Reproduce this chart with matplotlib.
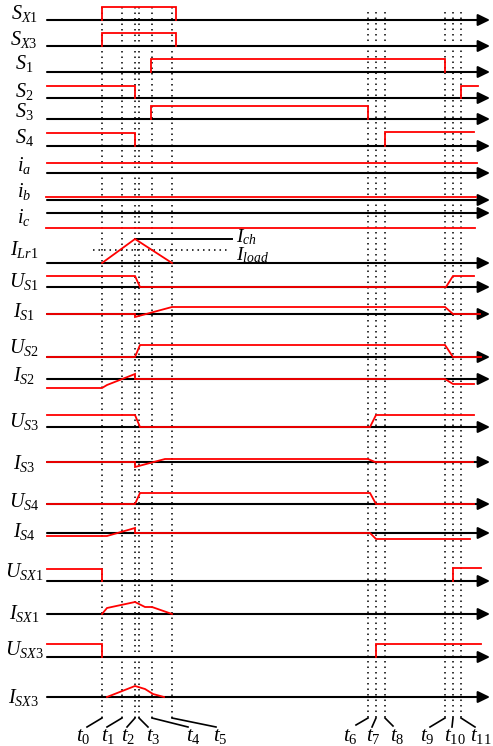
import matplotlib
matplotlib.use("Agg")
import matplotlib.pyplot as plt

plt.rcParams['mathtext.fontset'] = 'custom'
plt.rcParams['mathtext.it'] = 'Liberation Serif:italic'
plt.rcParams['mathtext.rm'] = 'Liberation Serif'
plt.rcParams['font.family'] = ['Liberation Serif', 'DejaVu Sans']

# time instants t0..t11 (horizontal position on the time axis)
t = [102, 122, 135, 139, 152, 172, 368, 376, 385, 445, 453, 461]
t_start, t_end = 47, 490

# row names and baselines
labels = [r'$S_{X1}$', r'$S_{X3}$', r'$S_{1}$', r'$S_{2}$', r'$S_{3}$', r'$S_{4}$',
          r'$i_{a}$', r'$i_{b}$', r'$i_{c}$', r'$I_{Lr1}$',
          r'$U_{S1}$', r'$I_{S1}$', r'$U_{S2}$', r'$I_{S2}$', r'$U_{S3}$', r'$I_{S3}$',
          r'$U_{S4}$', r'$I_{S4}$', r'$U_{SX1}$', r'$I_{SX1}$', r'$U_{SX3}$', r'$I_{SX3}$']
baselines = [20, 46, 72, 98, 119, 146, 173, 200, 213, 263,
             287, 314, 357, 379, 427, 462, 504, 533, 581, 614, 657, 697]
label_y = [13, 40, 64, 91, 112, 138, 165, 192, 217, 250,
           282, 312, 348, 375, 422, 463, 502, 532, 572, 613, 650, 698]

# waveforms: list of segments, each a list of (time, amplitude above the axis)
waves = {
    'SX1': [[(102, 0), (102, 13), (176, 13), (176, 0)]],
    'SX3': [[(102, 0), (102, 13), (176, 13), (176, 0)]],
    'S1': [[(151, 0), (151, 13), (445, 13), (445, 0)]],
    'S2': [[(47, 12), (135, 12), (135, 0)], [(461, 0), (461, 12), (478, 12)]],
    'S3': [[(151, 0), (151, 13), (368, 13), (368, 0)]],
    'S4': [[(47, 13), (135, 13), (135, 0)], [(385, 0), (385, 14), (474, 14)]],
    'ia': [[(47, 10), (477, 10)]],
    'ib': [[(46, 3), (476, 3)]],
    'ic': [[(46, -15), (475, -15)]],
    'ILr1': [[(102, 0), (135, 24), (172, 0)]],
    'US1': [[(47, 11), (135, 11), (140, 0), (446, 0), (453, 11), (474, 11)]],
    'IS1': [[(47, 0), (135, 0), (135, -3), (172, 7), (445, 7), (453, 0), (480, 0)]],
    'US2': [[(47, 0), (135, 0), (140, 12), (445, 12), (453, 0), (481, 0)]],
    'IS2': [[(47, -9), (102, -9), (107, -6), (135, 5), (135, 0), (445, 0), (453, -5), (474, -5)]],
    'US3': [[(47, 12), (135, 12), (140, 0), (370, 0), (376, 12), (474, 12)]],
    'IS3': [[(47, 0), (135, 0), (135, -5), (165, 3), (368, 3), (375, 0), (473, 0)]],
    'US4': [[(47, 0), (135, 0), (140, 11), (370, 11), (376, 0), (474, 0)]],
    'IS4': [[(47, -3), (107, -3), (135, 5), (135, 0), (370, 0), (376, -6), (470, -6)]],
    'USX1': [[(47, 12), (102, 12), (102, 0)], [(453, 0), (453, 13), (481, 13)]],
    'ISX1': [[(102, 0), (107, 6), (135, 12), (145, 7), (152, 7), (172, 0)]],
    'USX3': [[(47, 13), (102, 13), (102, 0)], [(376, 0), (376, 13), (481, 13)]],
    'ISX3': [[(107, 0), (135, 11), (145, 8), (153, 3), (164, 0)]],
}

# time labels and their leader lines
t_names = [r'$t_{%d}$' % i for i in range(12)]
t_label_x = [83, 108, 128, 153, 193, 220, 350, 373, 397, 427, 455, 481]
t_lead_end = [(87, 727), (107, 727), (127, 727), (148, 727), (188, 727), (216, 727),
              (356, 725), (372, 727), (393, 726), (430, 727), (452, 727), (475, 727)]

fig = plt.figure(figsize=(4.93, 7.46), dpi=100)
ax = fig.add_axes([0, 0, 1, 1])
ax.set_xlim(0, 493)
ax.set_ylim(746, 0)
ax.axis('off')

# dotted time markers
for i, x in enumerate(t):
    top = 7 if i < 6 else 12
    ax.plot([x, x], [top, 719], color='k', lw=1.1, ls=(0, (1, 2.6)), zorder=1)

# axes with arrow heads
for y in baselines:
    ax.annotate('', xy=(t_end, y), xytext=(t_start, y),
                arrowprops=dict(arrowstyle='-|>,head_length=0.45,head_width=0.22',
                                lw=1.5, color='k', mutation_scale=16, shrinkA=0, shrinkB=0),
                zorder=2)

# waveforms
for (name, segs), y0 in zip(waves.items(), baselines):
    for seg in segs:
        xs = [p[0] for p in seg]
        ys = [y0 - p[1] for p in seg]
        ax.plot(xs, ys, color='#ff0000', lw=1.3, zorder=3, solid_joinstyle='miter')

# row labels
for lab, y in zip(labels, label_y):
    ax.text(24, y, lab, fontsize=14.5, ha='center', va='center')

# I_ch and I_load reference lines
ax.plot([135, 232], [239, 239], color='k', lw=1.4, zorder=2)
ax.plot([93, 230], [250, 250], color='k', lw=1.1, ls=(0, (1, 2.6)), zorder=1)
ax.text(236, 237, r'$I_{ch}$', fontsize=14, ha='left', va='center')
ax.text(236, 255, r'$I_{load}$', fontsize=14, ha='left', va='center')

# time labels
for x, name, lx, (ex, ey) in zip(t, t_names, t_label_x, t_lead_end):
    ax.plot([x, ex], [718, ey], color='k', lw=1.2)
    ax.text(lx, 736, name, fontsize=15, ha='center', va='center')

fig.savefig('out.png', dpi=100)
